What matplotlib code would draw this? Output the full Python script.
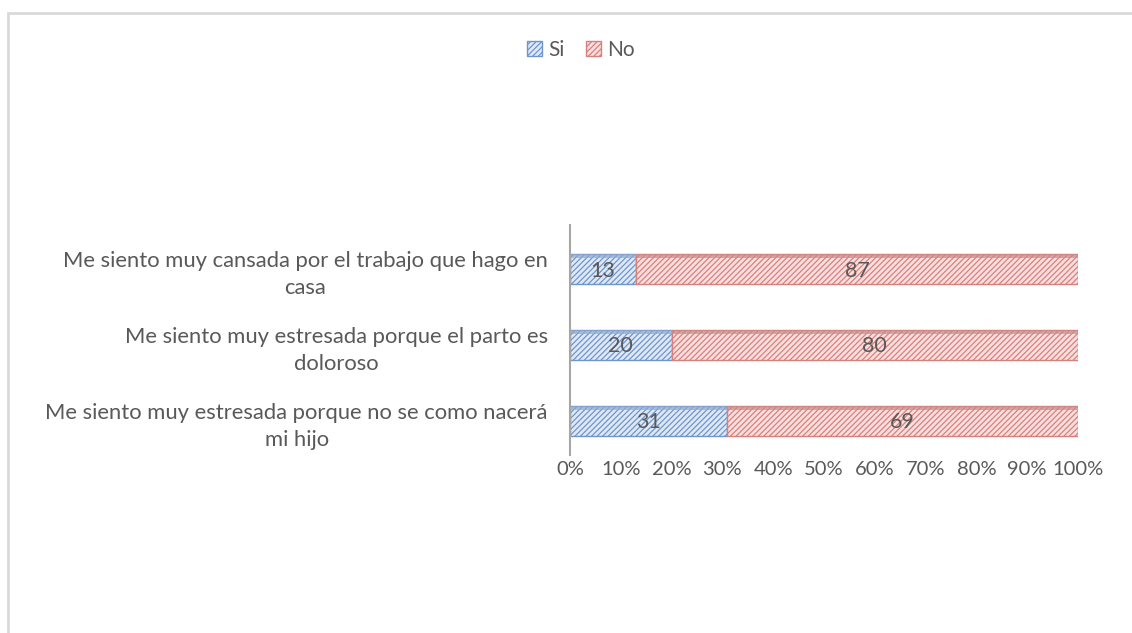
import matplotlib
matplotlib.use('Agg')
from matplotlib import pyplot as plt
from matplotlib.patches import Patch, Rectangle

# data (bottom to top, as drawn)
categories = [
    'Me siento muy estresada porque no se como nacerá\nmi hijo',
    'Me siento muy estresada porque el parto es\ndoloroso',
    'Me siento muy cansada por el trabajo que hago en\ncasa',
]
si = [31, 20, 13]
no = [69, 80, 87]
xticks = [0, 10, 20, 30, 40, 50, 60, 70, 80, 90, 100]

text_color = '#595959'
blue_face, blue_line, blue_top = '#dfe9f6', '#6f95cc', '#8fa9cf'
red_face, red_line, red_top = '#f9dfde', '#d9807d', '#c98a88'

plt.rcParams['font.family'] = ['Lato', 'DejaVu Sans']
plt.rcParams['hatch.linewidth'] = 0.9

fig = plt.figure(figsize=(11.32, 6.33), dpi=100)
ax = fig.add_axes([570 / 1132, 1 - 455 / 633, 508 / 1132, 230 / 633])

y = list(range(len(categories)))
h = 0.4
b1 = ax.barh(y, si, height=h, color=blue_face, edgecolor=blue_line,
             hatch='//////', linewidth=1.0)
b2 = ax.barh(y, no, left=si, height=h, color=red_face, edgecolor=red_line,
             hatch='//////', linewidth=1.0)
# darker top face of the 3-D bars
top_y = [v + h / 2 - 0.03 for v in y]
ax.barh(top_y, si, height=0.06, color=blue_top, alpha=0.7, linewidth=0)
ax.barh(top_y, no, left=si, height=0.06, color=red_top, alpha=0.7, linewidth=0)

for bars, vals in ((b1, si), (b2, no)):
    for bar, v in zip(bars, vals):
        ax.text(bar.get_x() + bar.get_width() / 2, bar.get_y() + bar.get_height() / 2 - 0.02,
                str(v), ha='center', va='center', fontsize=15.5, color=text_color)

ax.set_xlim(0, 100)
ax.set_ylim(-0.45, 2.58)
ax.set_xticks(xticks)
ax.set_xticklabels([f'{t}%' for t in xticks])
ax.set_yticks(y)
ax.set_yticklabels(categories, multialignment='center', linespacing=1.45, fontsize=15.8)
for lbl in ax.get_yticklabels():
    lbl.set_verticalalignment('center_baseline')
ax.tick_params(axis='both', length=0, colors=text_color)
ax.tick_params(axis='x', pad=4, labelsize=14.5)
ax.tick_params(axis='y', pad=16)

for s in ('top', 'right', 'bottom'):
    ax.spines[s].set_visible(False)
ax.spines['left'].set_color('#a6a6a6')
ax.spines['left'].set_linewidth(1.5)

handles = [
    Patch(facecolor=blue_face, edgecolor=blue_line, hatch='//////', label='Si'),
    Patch(facecolor=red_face, edgecolor=red_line, hatch='//////', label='No'),
]
leg = fig.legend(handles=handles, loc='center', bbox_to_anchor=(581 / 1132, 1 - 50 / 633),
                 ncol=2, frameon=False, fontsize=15, handlelength=0.75, handleheight=0.75,
                 handletextpad=0.3, columnspacing=1.0)
for t in leg.get_texts():
    t.set_color(text_color)

# chart area border
fig.patches.append(Rectangle((8 / 1132, -0.1), 1.2, 1.1 - 13 / 633, transform=fig.transFigure,
                             fill=False, edgecolor='#d9d9d9', linewidth=2))

fig.savefig('out.png', dpi=100)
